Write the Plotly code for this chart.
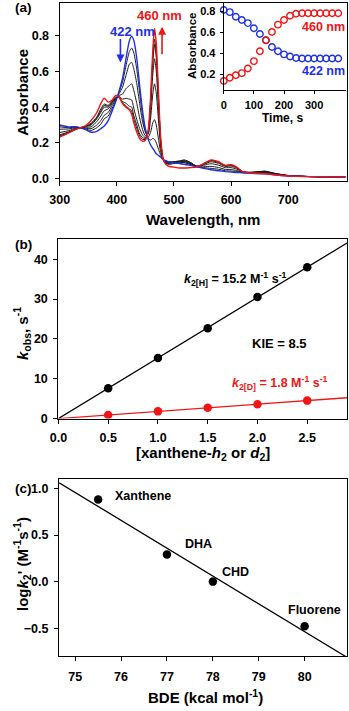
import numpy as np
import plotly.graph_objects as go

# ---- panel (a): UV-vis spectra ----
wl = [300, 315, 330, 345, 355, 365, 372, 378, 385, 392, 398, 404, 410, 416, 422, 426, 430, 435, 440, 445,
      450, 455, 459, 463, 466, 469, 473, 477, 482, 490, 500, 510, 518, 528, 540, 552, 565, 578, 590, 600,
      610, 620, 635, 650, 660, 675, 700, 740, 800]

abs_start = [0.300, 0.290, 0.290, 0.275, 0.260, 0.265, 0.280, 0.295, 0.325, 0.380, 0.430, 0.490, 0.560, 0.670,
             0.770, 0.795, 0.770, 0.670, 0.520, 0.380, 0.280, 0.220, 0.190, 0.170, 0.155, 0.140, 0.130, 0.120,
             0.105, 0.095, 0.090, 0.085, 0.080, 0.075, 0.067, 0.058, 0.050, 0.045, 0.040, 0.037, 0.035, 0.033,
             0.030, 0.028, 0.027, 0.022, 0.016, 0.012, 0.010]

abs_end = [0.233, 0.255, 0.278, 0.295, 0.325, 0.370, 0.420, 0.450, 0.428, 0.440, 0.465, 0.455, 0.420, 0.400,
           0.385, 0.360, 0.310, 0.260, 0.225, 0.210, 0.215, 0.270, 0.450, 0.720, 0.840, 0.760, 0.480, 0.220,
           0.100, 0.070, 0.065, 0.060, 0.060, 0.062, 0.065, 0.085, 0.105, 0.095, 0.075, 0.078, 0.065, 0.040,
           0.032, 0.030, 0.028, 0.022, 0.015, 0.012, 0.010]

abs_mid = [
    [0.290, 0.285, 0.288, 0.278, 0.270, 0.285, 0.305, 0.335, 0.350, 0.395, 0.435, 0.485, 0.539, 0.630, 0.710,
     0.730, 0.700, 0.610, 0.480, 0.355, 0.270, 0.225, 0.216, 0.225, 0.220, 0.202, 0.165, 0.130, 0.105, 0.095,
     0.092, 0.092, 0.090, 0.080, 0.067, 0.062, 0.058, 0.053, 0.045, 0.043, 0.040, 0.034, 0.032, 0.033, 0.033,
     0.026, 0.017, 0.012, 0.010],
    [0.277, 0.278, 0.286, 0.282, 0.280, 0.300, 0.325, 0.355, 0.370, 0.410, 0.440, 0.475, 0.511, 0.576, 0.640,
     0.650, 0.610, 0.530, 0.420, 0.320, 0.260, 0.233, 0.258, 0.313, 0.330, 0.301, 0.221, 0.146, 0.104, 0.093,
     0.094, 0.097, 0.098, 0.087, 0.068, 0.067, 0.069, 0.063, 0.052, 0.051, 0.046, 0.035, 0.034, 0.037, 0.038,
     0.029, 0.018, 0.012, 0.010],
    [0.258, 0.268, 0.283, 0.287, 0.290, 0.320, 0.350, 0.380, 0.390, 0.420, 0.445, 0.465, 0.473, 0.503, 0.520,
     0.530, 0.490, 0.420, 0.340, 0.275, 0.240, 0.248, 0.333, 0.473, 0.530, 0.481, 0.323, 0.175, 0.103, 0.090,
     0.095, 0.100, 0.105, 0.093, 0.070, 0.075, 0.084, 0.076, 0.062, 0.062, 0.054, 0.037, 0.036, 0.040, 0.042,
     0.031, 0.018, 0.012, 0.010],
    [0.245, 0.261, 0.280, 0.291, 0.300, 0.335, 0.370, 0.400, 0.400, 0.425, 0.450, 0.460, 0.445, 0.449, 0.445,
     0.440, 0.390, 0.330, 0.280, 0.245, 0.230, 0.258, 0.385, 0.583, 0.670, 0.605, 0.393, 0.195, 0.102, 0.088,
     0.094, 0.098, 0.103, 0.092, 0.070, 0.080, 0.095, 0.086, 0.069, 0.071, 0.060, 0.039, 0.036, 0.040, 0.042,
     0.031, 0.018, 0.012, 0.010],
    [0.238, 0.258, 0.279, 0.293, 0.305, 0.340, 0.380, 0.410, 0.405, 0.430, 0.450, 0.455, 0.431, 0.422, 0.405,
     0.400, 0.350, 0.300, 0.250, 0.230, 0.225, 0.264, 0.416, 0.649, 0.750, 0.679, 0.435, 0.207, 0.100, 0.085,
     0.090, 0.093, 0.097, 0.087, 0.069, 0.082, 0.101, 0.091, 0.072, 0.075, 0.063, 0.039, 0.035, 0.038, 0.040,
     0.029, 0.017, 0.012, 0.010],
    [0.235, 0.256, 0.278, 0.294, 0.310, 0.345, 0.390, 0.417, 0.410, 0.435, 0.455, 0.455, 0.424, 0.408, 0.390,
     0.380, 0.330, 0.280, 0.240, 0.220, 0.220, 0.266, 0.429, 0.676, 0.780, 0.710, 0.452, 0.212, 0.100, 0.080,
     0.085, 0.087, 0.090, 0.082, 0.068, 0.084, 0.103, 0.094, 0.074, 0.077, 0.064, 0.040, 0.034, 0.035, 0.036,
     0.027, 0.016, 0.012, 0.010],
]

# ---- inset: kinetics traces ----
time_s = [0, 20, 40, 60, 80, 100, 120, 140, 160, 180, 200, 220, 240, 260, 280, 300, 320, 340, 360, 380]
abs_422 = [0.815, 0.795, 0.75, 0.72, 0.69, 0.64, 0.585, 0.525, 0.46, 0.42, 0.39, 0.37, 0.355, 0.35, 0.35,
           0.35, 0.35, 0.35, 0.35, 0.35]
abs_460 = [0.135, 0.165, 0.19, 0.21, 0.255, 0.325, 0.42, 0.525, 0.605, 0.675, 0.72, 0.76, 0.78, 0.785, 0.785,
           0.785, 0.785, 0.785, 0.785, 0.785]

# ---- panel (b): kobs vs substrate ----
conc = [0.5, 1.0, 1.5, 2.0, 2.5]
kobs_h = [7.6, 15.2, 22.7, 30.5, 38.0]
kobs_d = [0.9, 1.8, 2.7, 3.6, 4.5]
k2_h = 15.2
k2_d = 1.8

# ---- panel (c): log k2' vs BDE ----
substrates = ["Xanthene", "DHA", "CHD", "Fluorene"]
bde = [75.5, 77.0, 78.0, 80.0]
logk2 = [0.88, 0.29, 0.0, -0.48]

W, H = 349, 711
BLUE = "#1f2fe6"
RED = "#f01414"
FONT = "Liberation Sans, Arial, sans-serif"


def px(x):
    return x / W


def py(y):
    return 1 - y / H


fig = go.Figure()

for ys in abs_mid:
    fig.add_trace(go.Scatter(x=wl, y=ys, mode="lines", line=dict(color="#1a1a1a", width=1, shape="spline",
                                                                  smoothing=0.6),
                             xaxis="x", yaxis="y", showlegend=False))
fig.add_trace(go.Scatter(x=wl, y=abs_start, mode="lines", line=dict(color=BLUE, width=1.4, shape="spline",
                                                                     smoothing=0.6),
                         xaxis="x", yaxis="y", showlegend=False))
fig.add_trace(go.Scatter(x=wl, y=abs_end, mode="lines", line=dict(color=RED, width=1.4, shape="spline",
                                                                   smoothing=0.6),
                         xaxis="x", yaxis="y", showlegend=False))

# inset
for ys, c in [(abs_422, BLUE), (abs_460, RED)]:
    fig.add_trace(go.Scatter(x=time_s, y=ys, mode="markers", cliponaxis=False,
                             marker=dict(symbol="circle-open", size=6.5, color=c, line=dict(width=1.4, color=c)),
                             xaxis="x2", yaxis="y2", showlegend=False))

# panel b
xb_max = 2.9
xb_fit = [0, xb_max]
fig.add_trace(go.Scatter(x=xb_fit, y=[k2_h * v for v in xb_fit], mode="lines", line=dict(color="black", width=1.3),
                         xaxis="x3", yaxis="y3", showlegend=False))
fig.add_trace(go.Scatter(x=xb_fit, y=[k2_d * v for v in xb_fit], mode="lines", line=dict(color=RED, width=1.3),
                         xaxis="x3", yaxis="y3", showlegend=False))
fig.add_trace(go.Scatter(x=conc, y=kobs_h, mode="markers", marker=dict(size=8.5, color="black"),
                         xaxis="x3", yaxis="y3", showlegend=False))
fig.add_trace(go.Scatter(x=conc, y=kobs_d, mode="markers", marker=dict(size=8.5, color=RED),
                         xaxis="x3", yaxis="y3", showlegend=False))

# panel c
xc_range = [74.65, 80.93]
slope, icpt = np.polyfit(bde, logk2, 1)
fig.add_trace(go.Scatter(x=xc_range, y=[slope * v + icpt for v in xc_range], mode="lines",
                         line=dict(color="black", width=1.3), xaxis="x4", yaxis="y4", showlegend=False))
fig.add_trace(go.Scatter(x=bde, y=logk2, mode="markers", marker=dict(size=8.5, color="black"),
                         xaxis="x4", yaxis="y4", showlegend=False))

axis_common = dict(showline=True, linecolor="black", linewidth=1.2, ticks="outside", ticklen=4, tickwidth=1.2,
                   tickcolor="black", showgrid=False, zeroline=False,
                   tickfont=dict(family=FONT, size=12.5, color="black", weight="bold"))

fig.update_layout(
    width=W, height=H, autosize=False,
    margin=dict(l=0, r=0, t=0, b=0),
    paper_bgcolor="white", plot_bgcolor="rgba(0,0,0,0)",
    font=dict(family=FONT, color="black", weight="bold"),
    xaxis=dict(axis_common, domain=[px(51.3), px(348)], range=[300, 803], tickvals=[300, 400, 500, 600, 700],
               mirror=True, anchor="y", ticklabelstandoff=3),
    yaxis=dict(axis_common, domain=[py(182.7), py(3.3)], range=[-0.012, 0.98], tickvals=[0, 0.2, 0.4, 0.6, 0.8],
               tickformat=".1f", mirror=True, anchor="x", ticklabelstandoff=3),
    xaxis2=dict(axis_common, domain=[px(220.7), px(346.7)], range=[0, 405], tickvals=[0, 100, 200, 300],
                anchor="y2", ticklen=3, ticklabelstandoff=2,
                tickfont=dict(family=FONT, size=11, color="black", weight="bold")),
    yaxis2=dict(axis_common, domain=[py(90.7), py(3.3)], range=[0.05, 0.88], tickvals=[0.2, 0.4, 0.6, 0.8],
                anchor="x2", ticklen=3, ticklabelstandoff=2,
                tickfont=dict(family=FONT, size=11, color="black", weight="bold")),
    xaxis3=dict(axis_common, domain=[px(50), px(348)], range=[0, xb_max], tickvals=[0, 0.5, 1.0, 1.5, 2.0, 2.5],
                tickformat=".1f", mirror=True, anchor="y3", ticklabelstandoff=3),
    yaxis3=dict(axis_common, domain=[py(422.7), py(241.7)], range=[0, 45], tickvals=[0, 10, 20, 30, 40],
                mirror=True, anchor="x3", ticklabelstandoff=3),
    xaxis4=dict(axis_common, domain=[px(50.7), px(348.3)], range=xc_range, tickvals=[75, 76, 77, 78, 79, 80],
                mirror=True, anchor="y4", ticklabelstandoff=5),
    yaxis4=dict(axis_common, domain=[py(662.7), py(483.3)], range=[-0.80, 1.106], tickvals=[-0.5, 0, 0.5, 1.0],
                tickformat=".1f", mirror=True, anchor="x4", ticklabelstandoff=3),
)


def label(text, x, y, size=15, color="black", angle=0, xanchor="center"):
    fig.add_annotation(text=text, x=px(x), y=py(y), xref="paper", yref="paper", showarrow=False,
                       xanchor=xanchor, yanchor="middle", textangle=angle,
                       font=dict(family=FONT, size=size, color=color, weight="bold"))


# panel (a) texts
label("(a)", 3, 8, size=13.5, xanchor="left")
label("Absorbance", 12, 93, angle=-90)
label("Wavelength, nm", 199.5, 222)
label("422 nm", 126.7, 32.3, size=13, color=BLUE)
label("460 nm", 154, 15.7, size=13, color=RED)
fig.add_annotation(x=px(114), y=py(63), xref="paper", yref="paper", text="", showarrow=True,
                   ax=0, ay=-25, arrowhead=2, arrowsize=1, arrowwidth=1.6, arrowcolor=BLUE)
fig.add_annotation(x=px(157), y=py(27), xref="paper", yref="paper", text="", showarrow=True,
                   ax=0, ay=29, arrowhead=2, arrowsize=1, arrowwidth=1.6, arrowcolor=RED)
# inset texts
label("Absorbance", 187.7, 46.7, size=11.5, angle=-90)
label("Time, s", 281.7, 119, size=12)
label("460 nm", 323.8, 27.7, size=12.5, color=RED)
label("422 nm", 323.8, 71.7, size=12.5, color=BLUE)

# panel (b) texts
label("(b)", 3, 247.3, size=13.5, xanchor="left")
label("<i>k</i><sub>obs</sub>, s<sup>-1</sup>", 12, 336.7, angle=-90)
label("[xanthene-<i>h</i><sub>2</sub> or <i>d</i><sub>2</sub>]", 199, 458)
label("<i>k</i><sub>2[H]</sub> = 15.2 M<sup>-1</sup> s<sup>-1</sup>", 233.3, 281.7, size=12.5)
label("KIE = 8.5", 278.3, 347.3, size=13)
label("<i>k</i><sub>2[D]</sub> = 1.8 M<sup>-1</sup> s<sup>-1</sup>", 278.3, 386.7, size=12.5, color=RED)

# panel (c) texts
label("(c)", 3, 493.3, size=13.5, xanchor="left")
label("log<i>k</i><sub>2</sub>' (M<sup>-1</sup>s<sup>-1</sup>)", 12, 570, angle=-90)
label("BDE (kcal mol<sup>-1</sup>)", 201.7, 703.3)
sub_pos = [(106, 500.7), (178.3, 549), (217.3, 577.3), (285, 616)]
for name, (lx, ly) in zip(substrates, sub_pos):
    label(name, lx, ly, size=12.5, xanchor="left")

# the page body has a default 8px margin, drop it so the figure fills the window
fig.write_html("out.html", config={"displayModeBar": False},
               post_script="document.body.style.margin='0px';")
